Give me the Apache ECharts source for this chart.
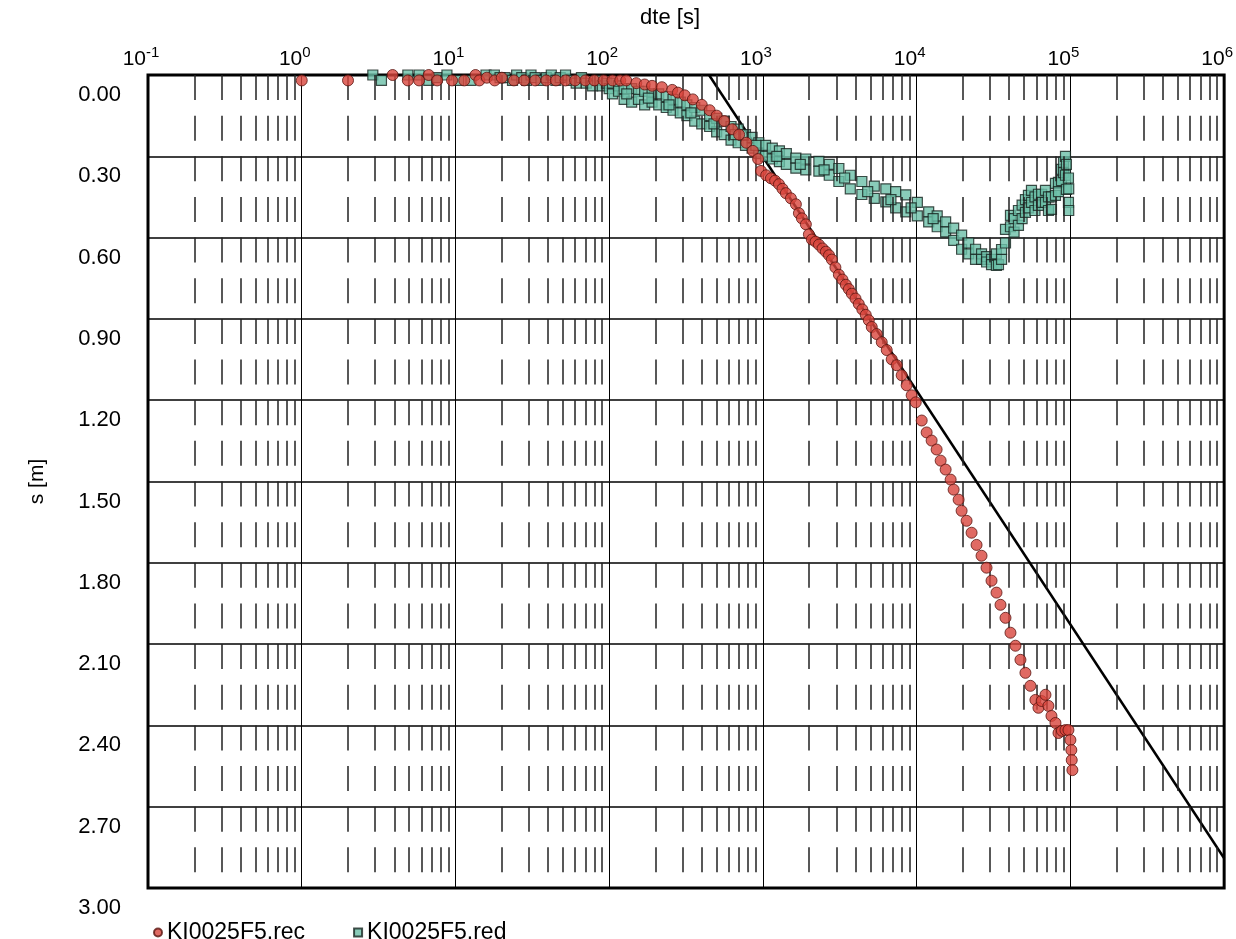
<!DOCTYPE html>
<html>
<head>
<meta charset="utf-8">
<title>KI0025F5</title>
<script src="https://cdn.jsdelivr.net/npm/echarts@6/dist/echarts.min.js"></script>
<style>
  html, body { margin: 0; padding: 0; background: #fff; }
  #main { width: 1236px; height: 939px; }
</style>
</head>
<body>
<div id="main"></div>
<script>
// KI0025F5.rec  (dte [s], s [m])
const recTime = [1.0, 2.0, 3.9, 4.9, 5.8, 6.7, 7.6, 9.5, 11.4, 13.5, 14.3,
  16, 18, 20, 24, 28, 33, 39, 45, 52, 60, 70, 80, 92, 105, 118,
  129, 150, 170, 190, 220, 257, 280,
  310, 350, 400, 450, 500, 560, 630, 700, 780, 860, 930,
  971, 1050, 1127, 1200, 1271, 1340, 1410, 1520, 1638, 1714,
  1792, 1902, 1990, 2081, 2200, 2311, 2440, 2566, 2690, 2808,
  2960, 3118, 3290, 3461, 3620, 3786, 4000, 4202, 4430, 4664,
  4880, 5103, 5500, 5926, 6385, 6880, 7413, 7988, 8607, 9274,
  9861, 10780, 11610, 12510, 13480, 14320, 15430, 16630, 17390, 18740,
  19600, 21120, 22760, 24520, 26420, 28470, 30680, 33060, 35100, 37820,
  40750, 43910, 47310, 50980, 54930, 59190, 61950, 65000, 68830, 71940,
  75290, 79940, 83630, 88000, 92880, 97100, 100000, 101400, 102000, 103000];
const recDraw = [0.02, 0.02, 0.0, 0.02, 0.02, 0.0, 0.02, 0.02, 0.02, 0.0, 0.02,
  0.01, 0.02, 0.01, 0.02, 0.02, 0.02, 0.02, 0.02, 0.02, 0.02, 0.02, 0.02, 0.02, 0.02, 0.02,
  0.02, 0.03, 0.035, 0.04, 0.045, 0.055, 0.065,
  0.075, 0.09, 0.11, 0.13, 0.15, 0.17, 0.20, 0.22, 0.25, 0.28, 0.31,
  0.354, 0.37, 0.381, 0.39, 0.403, 0.42, 0.436, 0.455, 0.477, 0.51,
  0.529, 0.551, 0.588, 0.607, 0.615, 0.626, 0.64, 0.652, 0.665, 0.681,
  0.71, 0.737, 0.755, 0.774, 0.79, 0.807, 0.825, 0.845, 0.865, 0.885,
  0.905, 0.93, 0.956, 0.986, 1.015, 1.049, 1.071, 1.108, 1.145, 1.182,
  1.208, 1.275, 1.319, 1.349, 1.382, 1.423, 1.456, 1.493, 1.530, 1.567,
  1.608, 1.645, 1.689, 1.734, 1.774, 1.818, 1.866, 1.910, 1.955, 2.003,
  2.058, 2.106, 2.158, 2.206, 2.254, 2.306, 2.335, 2.31, 2.287, 2.328,
  2.365, 2.391, 2.428, 2.42, 2.417, 2.417, 2.454, 2.491, 2.528, 2.565];

// KI0025F5.red
const redTime = [2.9, 3.3, 4.9, 5.8, 6.7, 7.6, 8.8, 10.5, 12.6, 15.8, 17.9, 19.5, 21, 23.5, 25, 27, 29,
  31, 33, 36, 39, 42, 45, 48, 52, 57, 61, 66, 71, 78, 84, 90, 96, 100,
  105, 105, 115, 115, 125, 125, 140, 140, 155, 155, 170, 170, 190, 190, 210, 210,
  235, 235, 260, 260, 290, 290, 320, 320, 360, 360, 400, 400, 450, 450, 500, 500,
  560, 560, 620, 620, 690, 690, 770, 770, 850, 850, 940, 940, 1040, 1040,
  1150, 1150, 1280, 1280, 1420, 1420, 1637, 1637, 1900, 1900, 2311, 2311,
  2700, 2700, 3118, 3118, 3700, 3700, 4400, 4400, 5300, 5300, 6300, 6300,
  7300, 7300, 8490, 8490, 10100, 10100, 11970, 11970, 13600, 13600, 15430, 15430,
  17400, 17400, 19600, 19600, 21800, 21800, 24150, 24150, 26420, 26420,
  28500, 28500, 30680, 30680, 33000, 33000, 34040,
  35650, 35650, 37820, 37820, 40750, 40750, 43000, 43000, 45920, 45920,
  48500, 48500, 50980, 50980, 53330, 53330, 55810, 55810, 58800, 58800,
  61950, 61950, 65000, 65000, 68830, 68830, 72000, 72000, 75290, 75290,
  79940, 79940, 83630, 83630, 87470, 87470, 90190, 90190, 92880, 92880,
  94180, 94180, 97100, 97100, 97500, 97500,
  130, 180, 245, 340, 480, 660, 900, 1230, 1750, 2500, 3400, 4800, 6800, 9200, 12800];
const redDraw = [0.0, 0.02, 0.0, 0.0, 0.02, 0.01, 0.0, 0.02, 0.02, 0.0, 0.0, 0.01, 0.01, 0.02, 0.0, 0.01, 0.02,
  0.0, 0.01, 0.02, 0.01, 0.0, 0.02, 0.01, 0.0, 0.02, 0.03, 0.01, 0.03, 0.04, 0.02, 0.04, 0.03, 0.05,
  0.03, 0.07, 0.04, 0.06, 0.05, 0.09, 0.05, 0.10, 0.06, 0.09, 0.06, 0.11, 0.07, 0.10, 0.07, 0.11,
  0.08, 0.12, 0.09, 0.13, 0.10, 0.14, 0.11, 0.15, 0.12, 0.17, 0.13, 0.18, 0.15, 0.19, 0.16, 0.21,
  0.17, 0.22, 0.19, 0.24, 0.20, 0.25, 0.22, 0.26, 0.23, 0.27, 0.25, 0.29, 0.26, 0.30,
  0.27, 0.31, 0.28, 0.32, 0.29, 0.33, 0.307, 0.344, 0.31, 0.35, 0.319, 0.355,
  0.33, 0.37, 0.345, 0.393, 0.37, 0.42, 0.393, 0.441, 0.41, 0.455, 0.42, 0.468,
  0.43, 0.49, 0.442, 0.505, 0.47, 0.52, 0.505, 0.542, 0.52, 0.56, 0.542, 0.579,
  0.565, 0.61, 0.591, 0.643, 0.62, 0.66, 0.643, 0.68, 0.66, 0.68,
  0.67, 0.69, 0.68, 0.70, 0.66, 0.703, 0.70,
  0.644, 0.68, 0.57, 0.62, 0.518, 0.56, 0.53, 0.58, 0.555, 0.50,
  0.48, 0.53, 0.507, 0.46, 0.444, 0.49, 0.426, 0.47, 0.45, 0.50,
  0.481, 0.44, 0.44, 0.47, 0.426, 0.47, 0.45, 0.50, 0.496, 0.45,
  0.444, 0.40, 0.396, 0.43, 0.348, 0.39, 0.322, 0.36, 0.37, 0.30,
  0.422, 0.33, 0.47, 0.38, 0.50, 0.42,
  0.07, 0.085, 0.11, 0.14, 0.18, 0.22, 0.26, 0.30, 0.33, 0.35, 0.38, 0.43, 0.46, 0.49, 0.53];

// straight line fit
const fitTime = [446, 1000000];
const fitDraw = [0, 2.89];

const seriesNames = ['KI0025F5.rec', 'KI0025F5.red'];

// minor log grid lines at 2..9 of each decade
const minorTicks = [];
for (let e = -1; e <= 5; e++) {
  for (let m = 2; m <= 9; m++) minorTicks.push(m * Math.pow(10, e));
}

const zip = (xs, ys) => xs.map((x, i) => [x, ys[i]]);

const chart = echarts.init(document.getElementById('main'));
const font = "'Liberation Sans', Arial, Helvetica, sans-serif";

const option = {
  backgroundColor: '#fff',
  animation: false,
  textStyle: { fontFamily: font, color: '#000' },
  grid: {
    left: 148, right: 8, top: 75, bottom: 51,
    show: true, borderColor: '#000', borderWidth: 3
  },
  legend: {
    data: [
      { name: seriesNames[0], icon: 'circle' },
      { name: seriesNames[1], icon: 'rect' }
    ],
    left: 148, top: 916,
    itemWidth: 8, itemHeight: 8, itemGap: 48,
    textStyle: { fontSize: 23, color: '#000', fontFamily: font }
  },
  xAxis: {
    type: 'log',
    logBase: 10,
    position: 'top',
    min: 0.1, max: 1000000,
    splitNumber: 7,
    name: 'dte [s]',
    nameLocation: 'middle',
    nameGap: 46,
    nameTextStyle: { fontSize: 22, color: '#000', fontFamily: font, padding: [0, 32, 0, 0] },
    axisLine: { show: false },
    axisTick: { show: false },
    axisLabel: {
      margin: 2,
      showMinLabel: true, showMaxLabel: true,
      align: 'center',
      padding: [0, 14, 0, 0],
      formatter: function (v) {
        const e = Math.round(Math.log10(v));
        return '{b|10}{s|' + e + '}';
      },
      rich: {
        b: { fontSize: 21, lineHeight: 28, color: '#000', fontFamily: font },
        s: { fontSize: 15, lineHeight: 14, verticalAlign: 'top', color: '#000', fontFamily: font }
      }
    },
    splitLine: { show: true, lineStyle: { color: '#000', width: 1 } }
  },
  yAxis: {
    type: 'value',
    inverse: true,
    min: 0, max: 3, interval: 0.3,
    name: 's [m]',
    nameLocation: 'middle',
    nameGap: 100,
    nameRotate: 90,
    nameTextStyle: { fontSize: 21, color: '#000', fontFamily: font },
    axisLine: { show: false },
    axisTick: { show: false },
    axisLabel: {
      margin: 27,
      formatter: v => '{v|' + v.toFixed(2) + '}',
      rich: {
        v: { fontSize: 22, color: '#000', fontFamily: font, padding: [40, 0, 0, 0] }
      }
    },
    splitLine: { show: true, lineStyle: { color: '#000', width: 1.5 } }
  },
  series: [
    {
      name: 'fit',
      type: 'line',
      data: zip(fitTime, fitDraw),
      showSymbol: false,
      silent: true,
      z: 3,
      lineStyle: { color: '#000', width: 2.5 },
      markLine: {
        silent: true,
        symbol: ['none', 'none'],
        label: { show: false },
        lineStyle: { color: '#222', width: 1.5, type: [25, 15.65] },
        data: minorTicks.map(v => ({ xAxis: v }))
      }
    },
    {
      name: seriesNames[1],
      type: 'scatter',
      symbol: 'rect',
      symbolSize: 10,
      z: 4,
      data: zip(redTime, redDraw),
      itemStyle: { color: '#6cbfa8', borderColor: '#17241f', borderWidth: 1.2 }
    },
    {
      name: seriesNames[0],
      type: 'scatter',
      symbol: 'circle',
      symbolSize: 11,
      z: 5,
      data: zip(recTime, recDraw),
      itemStyle: { color: '#d8453c', borderColor: '#5a1510', borderWidth: 1 }
    }
  ]
};

chart.setOption(option);
</script>
</body>
</html>
